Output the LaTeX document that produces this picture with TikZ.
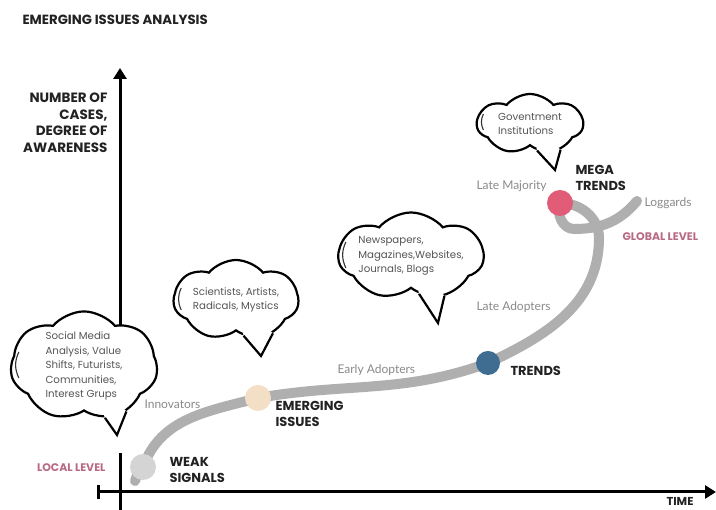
\documentclass[tikz,border=0pt]{standalone}
\usepackage{fontspec}
\setmainfont{Poppins}
\newfontfamily\thinfont{Lato}
\usetikzlibrary{positioning, arrows.meta, calc, shapes.symbols, backgrounds}

\definecolor{curvegray}{HTML}{AFAFAF}
\definecolor{weakgray}{HTML}{D4D4D4}
\definecolor{emergepeach}{HTML}{F3DFC6}
\definecolor{trendblue}{HTML}{3F6C91}
\definecolor{megapink}{HTML}{E05C77}
\definecolor{stagetext}{HTML}{222222}
\definecolor{bubbletext}{HTML}{555555}
\definecolor{adopttext}{HTML}{8A8A8A}
\definecolor{levelpink}{HTML}{B86A84}

\begin{document}
\begin{tikzpicture}[x=1pt, y=1pt, font=\fontsize{9}{12}\selectfont,
  >={Triangle[length=11pt, width=13pt]},
  axisline/.style={line width=3pt, black},
  curve/.style={line width=10pt, curvegray, line cap=round},
  dot/.style={circle, minimum size=26pt, inner sep=0pt},
  bubble/.style={cloud, cloud puffs=7, cloud puff arc=100, cloud ignores aspect, draw=black, line width=2.2pt, fill=white,
    align=left, inner sep=0pt, text=bubbletext, font=\fontsize{10.2}{14.5}\selectfont},
  tail/.style={line width=2.2pt, black, line join=miter},
  innerstroke/.style={line width=1.1pt, black!80},
  stage/.style={anchor=west, align=left, text=stagetext, font=\fontsize{13}{16}\selectfont\bfseries},
  adopt/.style={anchor=west, text=adopttext, font=\thinfont\fontsize{12}{14}\selectfont},
  level/.style={text=levelpink, font=\fontsize{11}{13}\selectfont\bfseries}]

  \useasboundingbox (0,0) rectangle (716,510);

  % stage markers on the curve
  \node[dot, fill=weakgray] (weak) at (143,43) {};
  \node[dot, fill=emergepeach] (emerging) at (258,112) {};
  \node[dot, fill=trendblue, minimum size=24pt] (trends) at (488,147) {};
  \node[dot, fill=megapink] (mega) at (560,307) {};
  \coordinate (tailstart) at (135,29);
  \coordinate (bend) at (599,272);
  \coordinate (loopbottom) at (574,281);
  \coordinate (loggend) at (637,309);

  \begin{pgfonlayer}{background}
    \fill[white] (0,0) rectangle (716,510);
    \draw[curve] (tailstart) to[out=80, in=250] (weak.center)
      to[out=70, in=195] (emerging.center)
      to[out=10, in=200] (trends.center)
      to[out=25, in=270] (bend)
      to[out=90, in=0] (mega.center)
      to[out=250, in=180] (loopbottom)
      to[out=0, in=230] (loggend);
  \end{pgfonlayer}

  % axes
  \coordinate (ytop) at (120,442);
  \coordinate (ymid) at (120,130);
  \coordinate (ylow) at (120,57);
  \coordinate (ybot) at (120,0);
  \coordinate (xleft) at (97,18);
  \coordinate (xright) at (716,18);
  \draw[axisline, ->] (ymid) -- (ytop);
  \draw[axisline] (ybot) -- (ylow);
  \draw[axisline, {Bar[width=14pt]}->] (xleft) -- (xright);

  % speech clouds
  \node[bubble, minimum width=147pt, minimum height=88pt] (social) at (84,144)
    {Social Media\\Analysis, Value\\Shifts, Futurists,\\Communities,\\Interest Grups};
  \coordinate (socialtip) at (117,75);
  \fill[white] ($(social.-68)!3pt!(social.center)$) -- (social.-68) -- (socialtip) -- (social.-47) -- ($(social.-47)!3pt!(social.center)$) -- cycle;
  \draw[tail] (social.-68) -- (socialtip) -- (social.-47);
  \draw[innerstroke] ($(social.west)+(9,14)$) to[bend right=25] ($(social.west)+(9,-12)$);

  \node[bubble, minimum width=125pt, minimum height=80pt] (science) at (236,210)
    {Scientists, Artists,\\Radicals, Mystics};
  \coordinate (sciencetip) at (261,154);
  \fill[white] ($(science.-78)!3pt!(science.center)$) -- (science.-78) -- (sciencetip) -- (science.-42) -- ($(science.-42)!3pt!(science.center)$) -- cycle;
  \draw[tail] (science.-78) -- (sciencetip) -- (science.-42);
  \draw[innerstroke] ($(science.west)+(9,12)$) to[bend right=25] ($(science.west)+(9,-10)$);

  \node[bubble, minimum width=138pt, minimum height=87pt] (media) at (411,254)
    {Newspapers,\\Magazines,Websites,\\Journals, Blogs};
  \coordinate (mediatip) at (438,187);
  \fill[white] ($(media.-78)!3pt!(media.center)$) -- (media.-78) -- (mediatip) -- (media.-50) -- ($(media.-50)!3pt!(media.center)$) -- cycle;
  \draw[tail] (media.-78) -- (mediatip) -- (media.-50);
  \draw[innerstroke] ($(media.west)+(9,14)$) to[bend right=25] ($(media.west)+(9,-12)$);

  \node[bubble, minimum width=106pt, minimum height=60pt] (govt) at (530,386)
    {Goventment\\Institutions};
  \coordinate (govttip) at (555,340);
  \fill[white] ($(govt.-75)!3pt!(govt.center)$) -- (govt.-75) -- (govttip) -- (govt.-40) -- ($(govt.-40)!3pt!(govt.center)$) -- cycle;
  \draw[tail] (govt.-75) -- (govttip) -- (govt.-40);
  \draw[innerstroke] ($(govt.west)+(8,10)$) to[bend right=25] ($(govt.west)+(8,-6)$);

  % texts
  \node[anchor=west, text=stagetext, font=\fontsize{13.3}{15}\selectfont\bfseries] (title) at (19,490) {EMERGING ISSUES ANALYSIS};
  \node[anchor=east, align=right, text=stagetext, font=\fontsize{13.5}{16.5}\selectfont\bfseries] (ylabel) at (111,387)
    {NUMBER OF\\CASES,\\DEGREE OF\\AWARENESS};
  \node[anchor=south, inner sep=0pt, text=stagetext, font=\fontsize{11.5}{13}\selectfont\bfseries] (timelabel) at (680,4) {TIME};

  \node[stage] (weaklabel) at (166,40) {WEAK\\SIGNALS};
  \node[stage] (emerginglabel) at (272,96) {EMERGING\\ISSUES};
  \node[stage] (trendslabel) at (507,139) {TRENDS};
  \node[stage] (megalabel) at (572,332) {MEGA\\TRENDS};

  \node[level, anchor=east] (local) at (109,42) {LOCAL LEVEL};
  \node[level, anchor=west] (global) at (619,273) {GLOBAL LEVEL};

  \node[adopt] (innovators) at (141,106) {Innovators};
  \node[adopt] (early) at (334,140) {Early Adopters};
  \node[adopt] (lateadopt) at (473,203) {Late Adopters};
  \node[adopt] (latemaj) at (473,324) {Late Majority};
  \node[adopt] (laggards) at (641,307) {Loggards};
\end{tikzpicture}
\end{document}
